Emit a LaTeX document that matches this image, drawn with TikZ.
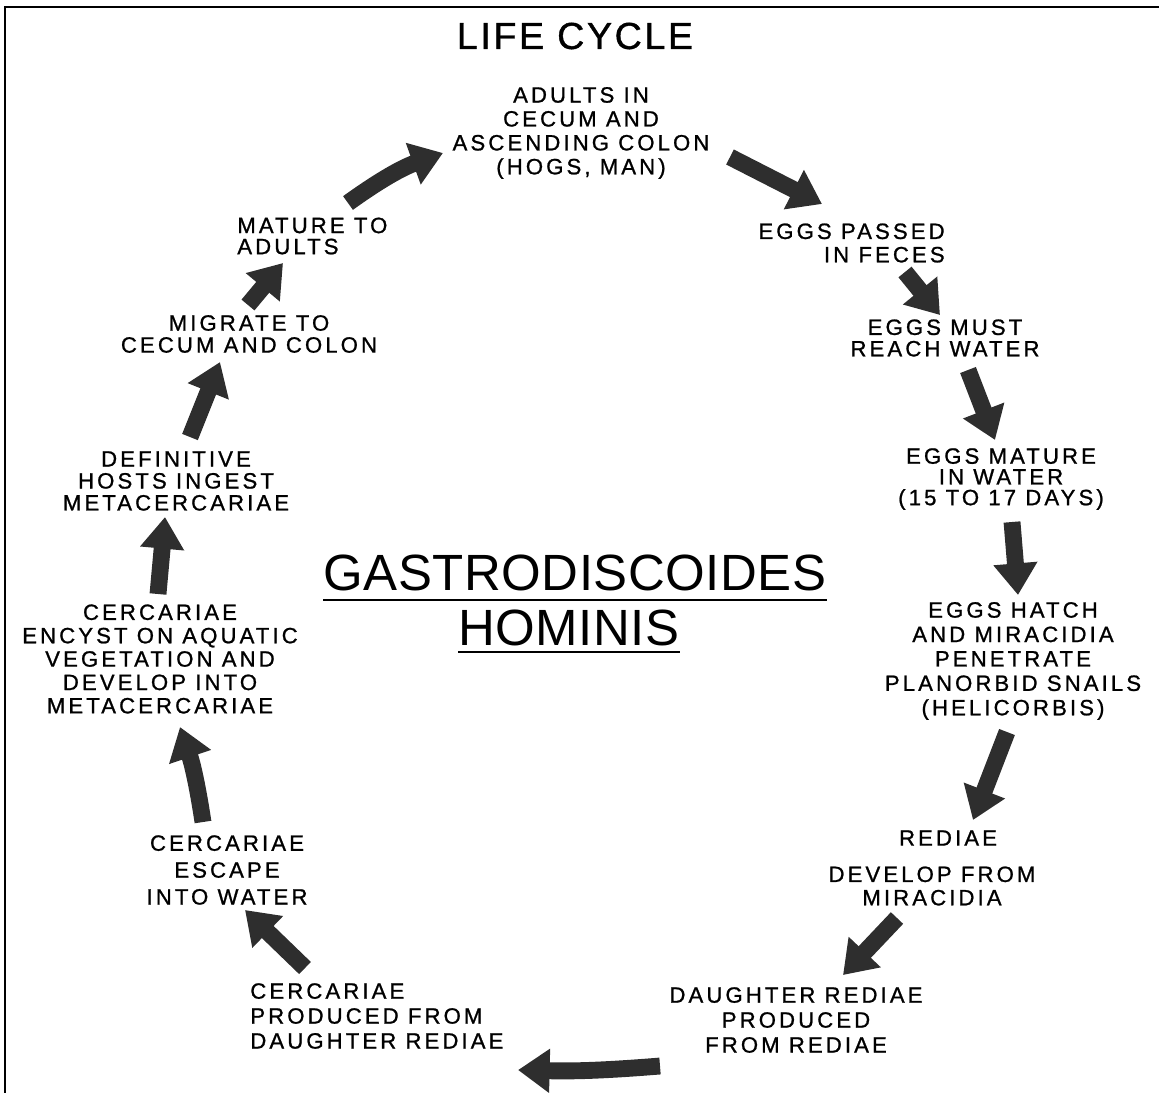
\documentclass[tikz,border=0pt]{standalone}
\usepackage{fontspec}
\usepackage{tikz}
\usetikzlibrary{arrows.meta}
\newfontfamily\stepfont{Liberation Sans}[LetterSpace=14,FakeBold=1]
\newfontfamily\headfont{Liberation Sans}[LetterSpace=7,FakeBold=1]
\newfontfamily\namefont{Liberation Sans}[LetterSpace=1]
\definecolor{ink}{HTML}{2E2E2E}

\begin{document}
\begin{tikzpicture}[x=0.02cm,y=-0.02cm,
  stage/.style={inner sep=0pt,align=center,font=\stepfont\fontsize{12.6}{13.3}\selectfont},
  fat/.style={ink,line width=9.6pt,-{Triangle[length=18pt,width=24pt]}}]
  \useasboundingbox (0,0) rectangle (1159,1093);
  \draw[line width=1.7pt] (1159,7) -- (5,7) -- (5,1093);

  % stages of the cycle
  \node[stage,font=\headfont\fontsize{21.4}{24}\selectfont] (title) at (575,36) {LIFE CYCLE};
  \node[stage,font=\stepfont\fontsize{12.6}{13.6}\selectfont] (adults) at (581,133) {ADULTS IN\\CECUM AND\\ASCENDING COLON\\(HOGS, MAN)};
  \node[stage,anchor=east,align=right] (feces) at (945,243) {EGGS PASSED\\IN FECES};
  \node[stage,font=\stepfont\fontsize{12.6}{12.2}\selectfont] (must) at (945,338) {EGGS MUST\\REACH WATER};
  \node[stage,font=\stepfont\fontsize{12.6}{11.8}\selectfont] (eggwater) at (1001,479) {EGGS MATURE\\IN WATER\\(15 TO 17 DAYS)};
  \node[stage,font=\stepfont\fontsize{12.6}{13.9}\selectfont] (hatch) at (1013,661) {EGGS HATCH\\AND MIRACIDIA\\PENETRATE\\PLANORBID SNAILS\\(HELICORBIS)};
  \node[stage] (rediae) at (948,838) {REDIAE};
  \node[stage] (develop) at (932,886) {DEVELOP FROM\\MIRACIDIA};
  \node[stage,font=\stepfont\fontsize{12.6}{14.2}\selectfont] (daughter) at (796,1020) {DAUGHTER REDIAE\\PRODUCED\\FROM REDIAE};
  \node[stage,anchor=west,align=left,font=\stepfont\fontsize{12.6}{14.2}\selectfont] (produced) at (250,1016) {CERCARIAE\\PRODUCED FROM\\DAUGHTER REDIAE};
  \node[stage,font=\stepfont\fontsize{12.6}{15.3}\selectfont] (escape) at (227,870) {CERCARIAE\\ESCAPE\\INTO WATER};
  \node[stage] (encyst) at (160,659) {CERCARIAE\\ENCYST ON AQUATIC\\VEGETATION AND\\DEVELOP INTO\\METACERCARIAE};
  \node[stage,font=\stepfont\fontsize{12.6}{12.5}\selectfont] (definitive) at (176,481) {DEFINITIVE\\HOSTS INGEST\\METACERCARIAE};
  \node[stage,font=\stepfont\fontsize{12.6}{12.5}\selectfont] (migrate) at (249,334) {MIGRATE TO\\CECUM AND COLON};
  \node[stage,anchor=west,align=left,font=\stepfont\fontsize{12.6}{12}\selectfont] (matureto) at (237,236) {MATURE TO\\ADULTS};

  % name in the middle
  \node[stage,anchor=base,font=\namefont\fontsize{29}{33}\selectfont] (gastro) at (575,590) {GASTRODISCOIDES};
  \node[stage,anchor=base,font=\namefont\fontsize{29}{33}\selectfont] (hominis) at (569,645) {HOMINIS};
  \draw[line width=1.6pt] ([shift={(0,10)}]gastro.base west) -- ([shift={(0,10)}]gastro.base east);
  \draw[line width=1.6pt] ([shift={(0,7)}]hominis.base west) -- ([shift={(0,7)}]hominis.base east);

  % arrows round the cycle
  \draw[fat] ([shift={(111,-33)}]matureto.west) to[bend left=8] ([shift={(-138,20)}]adults.center);
  \draw[fat] ([shift={(149,24)}]adults.center) -- ([shift={(-123,-39)}]feces.east);
  \draw[fat] ([shift={(-40,29)}]feces.east) -- ([shift={(-5,-23)}]must.center);
  \draw[fat] ([shift={(23,32)}]must.center) -- ([shift={(-6,-39)}]eggwater.center);
  \draw[fat] ([shift={(11,43)}]eggwater.center) -- ([shift={(5,-66)}]hatch.center);
  \draw[fat] ([shift={(-6,71)}]hatch.center) -- ([shift={(25,-18)}]rediae.center);
  \draw[fat] ([shift={(-35,32)}]develop.center) -- ([shift={(47,-45)}]daughter.center);
  \draw[fat] ([shift={(-136,46)}]daughter.center) to[bend left=3] ([shift={(268,54)}]produced.west);
  \draw[fat] ([shift={(55,-48)}]produced.west) -- ([shift={(18,40)}]escape.center);
  \draw[fat] ([shift={(-24,-48)}]escape.center) to[bend right=5] ([shift={(20,68)}]encyst.center);
  \draw[fat] ([shift={(-2,-65)}]encyst.center) -- ([shift={(-11,36)}]definitive.center);
  \draw[fat] ([shift={(14,-44)}]definitive.center) -- ([shift={(-29,28)}]migrate.center);
  \draw[fat] ([shift={(-1,-29)}]migrate.center) -- ([shift={(46,27)}]matureto.west);
\end{tikzpicture}
\end{document}
